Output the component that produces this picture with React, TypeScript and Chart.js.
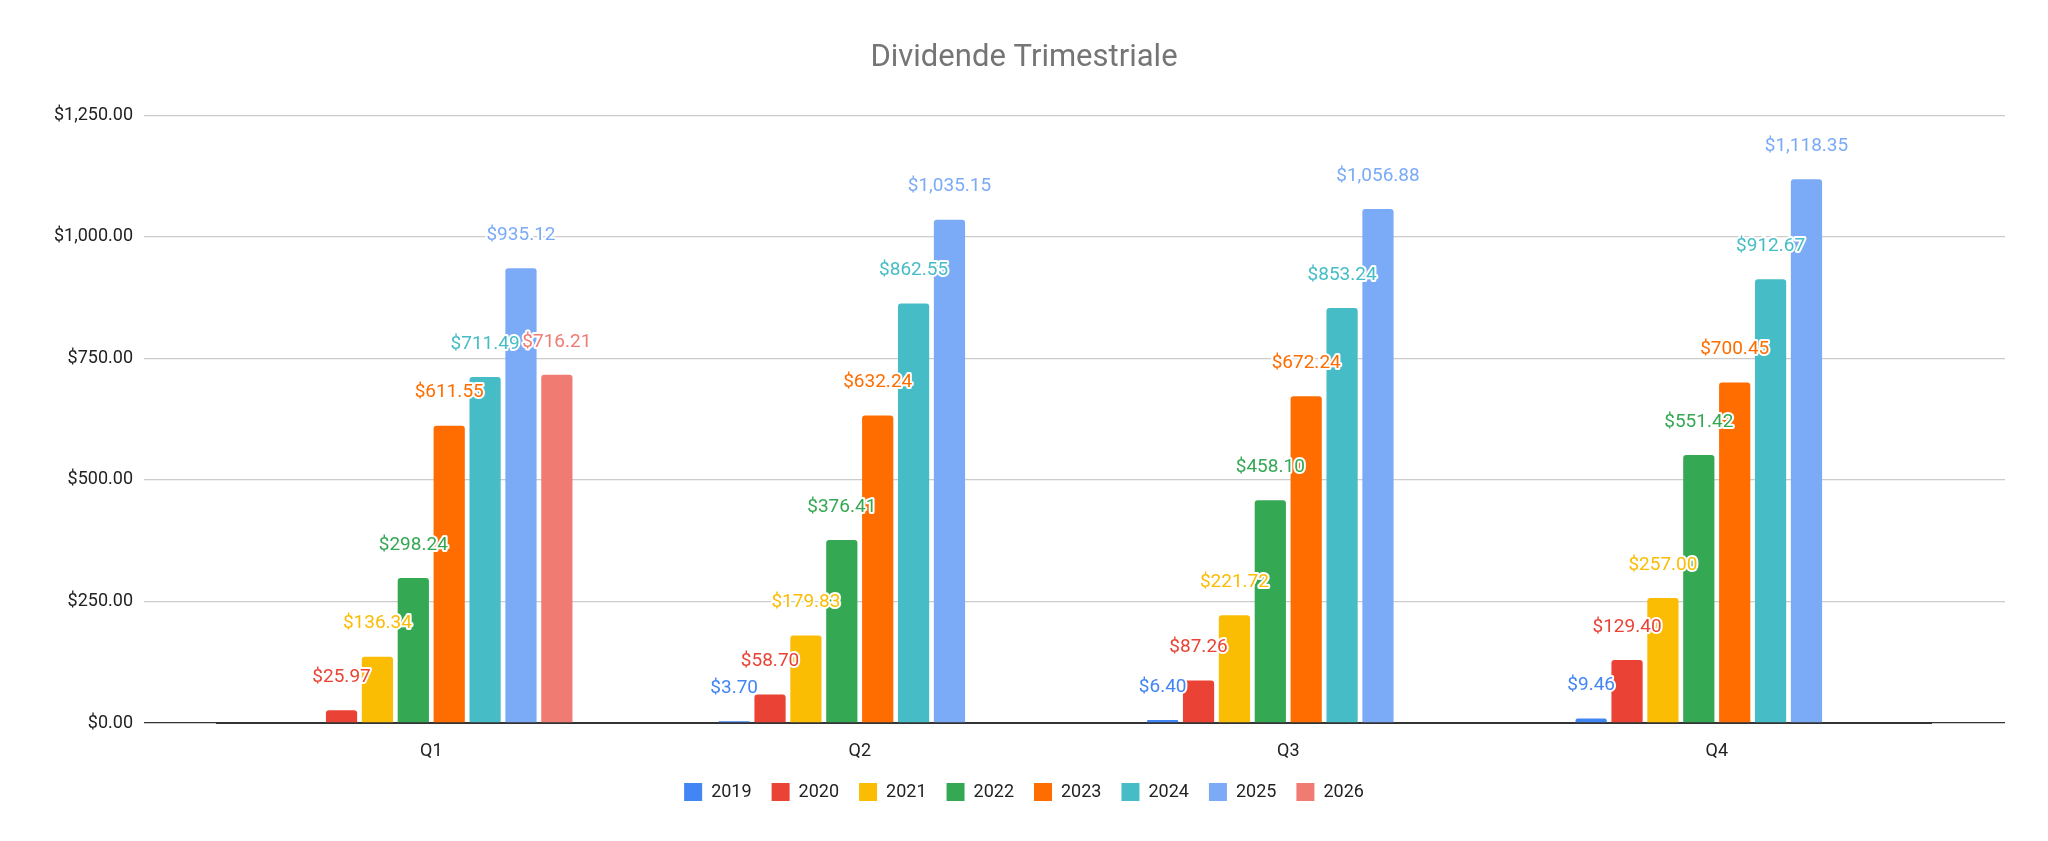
import React, { useEffect, useRef } from "react";
import { Chart, registerables } from "chart.js";
Chart.register(...registerables);

const categories = ["Q1", "Q2", "Q3", "Q4"];
const years = ["2019", "2020", "2021", "2022", "2023", "2024", "2025", "2026"];
const v2019 = [null, 3.7, 6.4, 9.46];
const v2020 = [25.97, 58.7, 87.26, 129.4];
const v2021 = [136.34, 179.83, 221.72, 257.0];
const v2022 = [298.24, 376.41, 458.1, 551.42];
const v2023 = [611.55, 632.24, 672.24, 700.45];
const v2024 = [711.49, 862.55, 853.24, 912.67];
const v2025 = [935.12, 1035.15, 1056.88, 1118.35];
const v2026 = [716.21, null, null, null];
const seriesValues = [v2019, v2020, v2021, v2022, v2023, v2024, v2025, v2026];
const colors = ["#4285F4", "#EA4335", "#FBBC04", "#34A853", "#FF6D01", "#46BDC6", "#7BAAF7", "#F07B72"];
const yTicks = [0, 250, 500, 750, 1000, 1250];

const fmt = (v: number) =>
  "$" + v.toLocaleString("en-US", { minimumFractionDigits: 2, maximumFractionDigits: 2 });

const labelPlugin = {
  id: "barLabels",
  afterDatasetsDraw(chart: any) {
    const ctx = chart.ctx;
    ctx.save();
    ctx.font = "19px Roboto";
    ctx.textAlign = "center";
    ctx.textBaseline = "middle";
    ctx.lineJoin = "round";
    chart.data.datasets.forEach((ds: any, i: number) => {
      const meta = chart.getDatasetMeta(i);
      meta.data.forEach((bar: any, j: number) => {
        const v = ds.data[j];
        if (v == null) return;
        const y = bar.y - 33;
        ctx.strokeStyle = "#fff";
        ctx.lineWidth = 4;
        ctx.strokeText(fmt(v), bar.x, y);
        ctx.fillStyle = colors[i];
        ctx.fillText(fmt(v), bar.x, y);
      });
    });
    ctx.restore();
  },
};

export default function App() {
  const ref = useRef<HTMLCanvasElement>(null);
  useEffect(() => {
    document.body.style.margin = "0";
    const gridColor = (c: any) => (c.tick && c.tick.value === 0 ? "#333" : "#ccc");
    const chart = new Chart(ref.current!, {
      type: "bar",
      data: {
        labels: categories,
        datasets: years.map((y, i) => ({
          label: y,
          data: seriesValues[i] as any,
          backgroundColor: colors[i],
          categoryPercentage: 0.67,
          barPercentage: 0.87,
          borderRadius: { topLeft: 3, topRight: 3 },
          borderSkipped: "bottom",
        })),
      },
      plugins: [labelPlugin],
      options: {
        responsive: false,
        animation: false,
        layout: { padding: { bottom: 30 } },
        plugins: {
          title: {
            display: true,
            text: "Dividende Trimestriale",
            color: "#757575",
            font: { family: "Roboto", size: 31, weight: "normal" },
            padding: { top: 40, bottom: 38 },
          },
          legend: {
            position: "bottom",
            labels: {
              font: { family: "Roboto", size: 18 },
              color: "#222",
              boxWidth: 18,
              boxHeight: 18,
              padding: 20,
            },
          },
          tooltip: { enabled: false },
        },
        scales: {
          x: {
            grid: { display: false },
            border: { color: "#333", width: 2 },
            ticks: { font: { family: "Roboto", size: 18 }, color: "#222", padding: 10 },
            afterFit: (s: any) => { s.height = 40; },
          },
          y: {
            min: 0,
            max: 1250,
            afterBuildTicks: (s: any) => { s.ticks = yTicks.map((v) => ({ value: v })); },
            afterFit: (s: any) => { s.width = 217; },
            border: { display: false },
            grid: { color: gridColor, tickLength: 73, lineWidth: 1.3 },
            ticks: { font: { family: "Roboto", size: 18 }, color: "#222", padding: 11, callback: (v: any) => fmt(Number(v)) },
          },
          y2: {
            position: "right",
            min: 0,
            max: 1250,
            afterBuildTicks: (s: any) => { s.ticks = yTicks.map((v) => ({ value: v })); },
            afterFit: (s: any) => { s.width = 117; },
            border: { display: false },
            grid: { color: gridColor, tickLength: 74, drawOnChartArea: false, lineWidth: 1.3 },
            ticks: { callback: () => "", padding: 0 },
          },
        },
      } as any,
    });
    return () => chart.destroy();
  }, []);
  return <canvas ref={ref} width={2048} height={841} style={{ display: "block" }} />;
}
